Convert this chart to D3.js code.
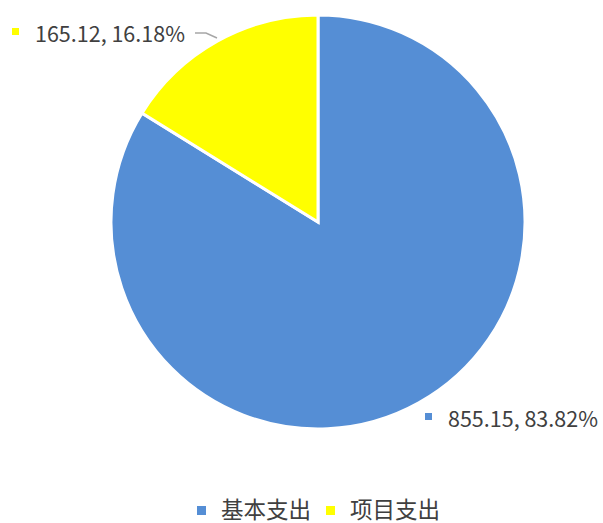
<!DOCTYPE html>
<html>
<head>
<meta charset="utf-8">
<script src="https://cdn.jsdelivr.net/npm/d3@7"></script>
<style>
  body { margin: 0; background: #fff; }
  text { font-family: "Noto Sans CJK SC", "Noto Sans", sans-serif; fill: #404040; }
</style>
</head>
<body>
<svg id="chart" width="603" height="523"></svg>
<script>
var categories = ["基本支出", "项目支出"]
var values = [855.15, 165.12]
var percents = ["83.82%", "16.18%"]
var colors = ["#558ed5", "#ffff00"]

var svg = d3.select("#chart")
var cx = 318, cy = 222, radius = 207

var pie = d3.pie().sort(null).value(function(d) { return d })
var arcs = pie(values)
var arc = d3.arc().innerRadius(0).outerRadius(radius)

var g = svg.append("g").attr("transform", "translate(" + cx + "," + cy + ")")
g.selectAll("path")
  .data(arcs)
  .enter()
  .append("path")
  .attr("d", arc)
  .attr("fill", function(d, i) { return colors[i] })
  .attr("stroke", "#fff")
  .attr("stroke-width", 3)

/* data labels */
var labelPos = [[425, 413], [12, 28]]
var labels = svg.selectAll(".dlabel")
  .data(arcs)
  .enter()
  .append("g")
  .attr("class", "dlabel")
  .attr("transform", function(d, i) { return "translate(" + labelPos[i][0] + "," + labelPos[i][1] + ")" })
labels.append("rect")
  .attr("width", 7)
  .attr("height", 7)
  .attr("fill", function(d, i) { return colors[i] })
labels.append("text")
  .attr("x", 23)
  .attr("y", 14)
  .attr("font-size", 21.5)
  .text(function(d, i) { return d3.format(".2f")(d.value) + ", " + percents[i] })

/* leader line for the small slice */
svg.append("path")
  .attr("d", d3.line()([[195, 33], [206, 33], [217, 38]]))
  .attr("fill", "none")
  .attr("stroke", "#a6a6a6")
  .attr("stroke-width", 1.5)

/* legend */
var legendX = [197, 326]
var legend = svg.selectAll(".legend")
  .data(categories)
  .enter()
  .append("g")
  .attr("class", "legend")
  .attr("transform", function(d, i) { return "translate(" + legendX[i] + ",506)" })
legend.append("rect")
  .attr("width", 9)
  .attr("height", 9)
  .attr("fill", function(d, i) { return colors[i] })
legend.append("text")
  .attr("x", 24)
  .attr("y", 14)
  .attr("font-size", 22.5)
  .attr("dominant-baseline", "middle")
  .attr("dy", "-0.35em")
  .text(function(d) { return d })
</script>
</body>
</html>
